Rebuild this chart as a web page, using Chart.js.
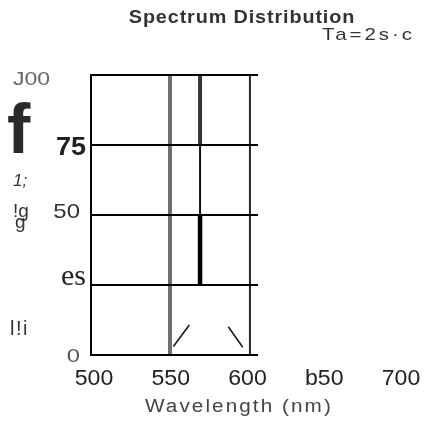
<!DOCTYPE html>
<html>
<head>
<meta charset="utf-8">
<title>Spectrum Distribution</title>
<script src="https://cdn.jsdelivr.net/npm/chart.js@4.4.1/dist/chart.umd.min.js"></script>
<style>
  body { margin: 0; background: #fff; }
  #wrap { width: 433px; height: 423px; }
</style>
</head>
<body>
<div id="wrap"><canvas id="spectrum" width="433" height="423"></canvas></div>
<script>
// === Chart values ===
const xTicks = [500, 550, 600, 650, 700];
const xTickLabels = ["500", "550", "600", "b50", "700"];
const yTicks = [0, 25, 50, 75, 100];
const yTickLabels = ["0", "es", "50", "75", "J00"];

const xMin = 498.05;           // frame's left edge sits a bit before 500
const xMax = 715;
const gridTo = 606.2;          // horizontal rules stop just past the right frame
const frameRight = 601.6;
const greyLine = 549.5;        // grey full-height line
const peakLine = 569.1;        // dark line, drawn in three pieces
const peakTop = [75, 100];
const peakMid = [50, 75];
const peakLow = [25, 50];
const riseX = [551.7, 562.1];
const riseY = [3.0, 10.7];
const fallX = [587.5, 596.9];
const fallY = [10.1, 2.75];

// === Text styles (sx = horizontal stretch of the scan's lettering) ===
const xLabelStyle = { dy: 30, align: "center", font: "22px 'Liberation Sans'", color: "#222", sx: 1.05 };

const yLabelStyle = [
  { x: 80, dy: 7,  align: "right", font: "19px 'Liberation Sans'", color: "#555", sx: 1.25 },
  { x: 86, dy: 0,  align: "right", font: "30px 'Liberation Serif'", color: "#222" },
  { x: 80, dy: 3,  align: "right", font: "21px 'Liberation Sans'", color: "#333", sx: 1.14 },
  { x: 86, dy: 10, align: "right", font: "bold 26px 'Liberation Sans'", color: "#222", sx: 1.04 },
  { x: 13, dy: 10, align: "left",  font: "18px 'Liberation Sans'", color: "#666", sx: 1.28 }
];

const notes = [
  { text: "Spectrum Distribution", x: 242, y: 23, align: "center", font: "bold 18px 'Liberation Sans'", color: "#333", sx: 1.1, spacing: 0.8 },
  { text: "Ta=2s·c", x: 322, y: 40, font: "17px 'Liberation Sans'", color: "#333", sx: 1.2, spacing: 2.5 },
  { text: "Wavelength (nm)", x: 145, y: 412, font: "18px 'Liberation Sans'", color: "#444", sx: 1.15, spacing: 1.8 },
  { text: "f", x: 7, y: 153, font: "bold 70px 'Liberation Sans'", color: "#2a2a2a" },
  { text: "1;", x: 13, y: 186, font: "italic 17px 'Liberation Sans'", color: "#333" },
  { text: "!g", x: 13, y: 217, font: "19px 'Liberation Sans'", color: "#333" },
  { text: "g", x: 15, y: 228, font: "19px 'Liberation Sans'", color: "#333" },
  { text: "l!i", x: 10, y: 335, font: "20px 'Liberation Sans'", color: "#333", spacing: 1.5 }
];

// === Helpers ===
function seg(x1, y1, x2, y2) {
  return [{ x: x1, y: y1 }, { x: x2, y: y2 }];
}

function rule(data, color, width, cap) {
  return {
    data: data,
    borderColor: color,
    borderWidth: width,
    borderCapStyle: cap || "butt",
    pointRadius: 0,
    clip: false
  };
}

function drawText(ctx, text, x, y, s) {
  ctx.save();
  ctx.font = s.font;
  ctx.fillStyle = s.color || "#333";
  ctx.textAlign = s.align || "left";
  ctx.textBaseline = "alphabetic";
  if ("letterSpacing" in ctx) ctx.letterSpacing = (s.spacing || 0) + "px";
  ctx.translate(x, y);
  ctx.scale(s.sx || 1, 1);
  ctx.fillText(text, 0, 0);
  ctx.restore();
}

// === Text layer: tick labels at the scale positions, plus loose notes ===
const textLayer = {
  id: "textLayer",
  afterDraw(chart) {
    const ctx = chart.ctx;
    const xScale = chart.scales.x;
    const yScale = chart.scales.y;
    xTicks.forEach((v, i) => {
      drawText(ctx, xTickLabels[i], xScale.getPixelForValue(v), chart.chartArea.bottom + xLabelStyle.dy, xLabelStyle);
    });
    yTicks.forEach((v, i) => {
      const s = yLabelStyle[i];
      drawText(ctx, yTickLabels[i], s.x, yScale.getPixelForValue(v) + s.dy, s);
    });
    notes.forEach(n => drawText(ctx, n.text, n.x, n.y, n));
  }
};

// === Datasets: first in list is drawn on top ===
const datasets = [];
yTicks.forEach(v => datasets.push(rule(seg(xMin, v, gridTo, v), "#000", 2, "square")));
datasets.push(rule(seg(xMin, 0, xMin, 100), "#000", 2, "square"));
datasets.push(rule(seg(frameRight, 0, frameRight, 100), "#262626", 2));
datasets.push(rule(seg(riseX[0], riseY[0], riseX[1], riseY[1]), "#1a1a1a", 1.6));
datasets.push(rule(seg(fallX[0], fallY[0], fallX[1], fallY[1]), "#1a1a1a", 1.6));
datasets.push(rule(seg(peakLine, peakTop[0], peakLine, peakTop[1]), "#363636", 4));
datasets.push(rule(seg(peakLine, peakMid[0], peakLine, peakMid[1]), "#111", 2));
datasets.push(rule(seg(peakLine, peakLow[0], peakLine, peakLow[1]), "#000", 4.5));
datasets.push(rule(seg(greyLine, 0, greyLine, 100), "#6e6e6e", 4));

// === Setup Chart.js ===
const ctx = document.getElementById("spectrum").getContext("2d");
const spectrumChart = new Chart(ctx, {
  type: "line",
  data: { datasets: datasets },
  options: {
    responsive: false,
    devicePixelRatio: 1,
    animation: false,
    layout: { padding: { left: 91, right: 9, top: 75, bottom: 68 } },
    plugins: {
      legend: { display: false },
      tooltip: { enabled: false },
      title: { display: false }
    },
    scales: {
      x: { type: "linear", min: xMin, max: xMax, display: false },
      y: { type: "linear", min: 0, max: 100, display: false }
    }
  },
  plugins: [textLayer]
});
</script>
</body>
</html>
